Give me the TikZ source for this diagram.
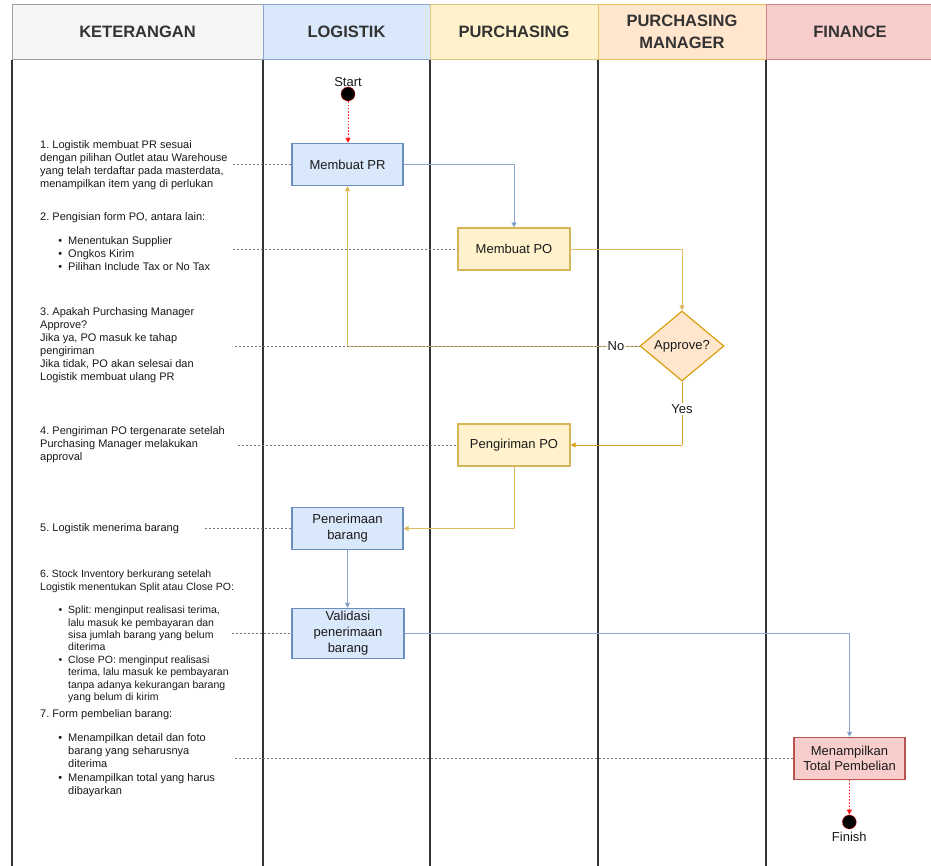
\documentclass[tikz,border=0pt]{standalone}
\usepackage{fontspec}
\setmainfont{Liberation Sans}
\usetikzlibrary{arrows.meta,shapes.geometric}
\frenchspacing
\definecolor{bfill}{HTML}{DAE8FC}\definecolor{bdraw}{HTML}{6C8EBF}
\definecolor{yfill}{HTML}{FFF2CC}\definecolor{ydraw}{HTML}{D6B656}
\definecolor{ofill}{HTML}{FFE6CC}\definecolor{odraw}{HTML}{D79B00}
\definecolor{rfill}{HTML}{F8CECC}\definecolor{rdraw}{HTML}{B85450}
\definecolor{gfill}{HTML}{F5F5F5}\definecolor{gdraw}{HTML}{A0A0A0}
\definecolor{laneline}{HTML}{333333}
\definecolor{guidecol}{HTML}{7A7A7A}
\definecolor{bline}{HTML}{8DA7D3}
\definecolor{yline}{HTML}{DDBC62}
\definecolor{yesline}{HTML}{D9A21E}
\definecolor{txt}{HTML}{1A1A1A}
\newcommand\bitem{\makebox[28pt][r]{\textbullet\hspace{6pt}}}
\newcommand\bcont{\hspace*{28pt}}
\tikzset{
  hdr/.style={rectangle, minimum height=55.5pt, inner sep=0pt, line width=1pt, align=center,
    font=\fontsize{16.5}{21.5}\selectfont\bfseries, text=laneline},
  box/.style={rectangle, minimum width=111pt, minimum height=42pt, line width=1.1pt, align=center,
    inner sep=1pt, font=\fontsize{13}{15.8}\selectfont, text=txt},
  bluebox/.style={box, fill=bfill, draw=bdraw},
  yelbox/.style={box, fill=yfill, draw=ydraw},
  redbox/.style={box, fill=rfill, draw=rdraw},
  note/.style={anchor=north west, align=left, inner sep=0pt, font=\fontsize{11}{13}\selectfont, text=txt},
  guide/.style={draw=guidecol, line width=0.8pt, dash pattern=on 2pt off 2pt},
  flow/.style={line width=0.9pt, -{Triangle[width=5pt,length=5pt]}},
  blueflow/.style={flow, draw=bline, -{Triangle[width=5pt,length=5pt,fill=bdraw]}},
  yelflow/.style={flow, draw=yline, -{Triangle[width=5pt,length=5pt,fill=ydraw]}},
  yesflow/.style={flow, draw=yesline},
  redflow/.style={flow, draw=red!85, dash pattern=on 1.6pt off 1.6pt, -{Triangle[width=5pt,length=5pt,fill=red]}},
  endpt/.style={circle, minimum size=14pt, inner sep=0pt, fill=black, draw=red, dash pattern=on 1pt off 1pt, line width=0.6pt},
  lbl/.style={fill=white, inner sep=1pt, font=\fontsize{13}{15.8}\selectfont, text=txt},
}
\begin{document}
\begin{tikzpicture}[x=1pt,y=-1pt]
\useasboundingbox (0,0) rectangle (931,865);
\fill[white] (0,0) rectangle (931,865);
\clip (0,0) rectangle (931,865);
% headers
\node[hdr, minimum width=251pt, fill=gfill, draw=gdraw] (hket) at (137.5,31.75) {KETERANGAN};
\node[hdr, minimum width=167pt, fill=bfill, draw=bdraw!80] (hlog) at (346.5,31.75) {LOGISTIK};
\node[hdr, minimum width=168pt, fill=yfill, draw=ydraw!80] (hpur) at (514,31.75) {PURCHASING};
\node[hdr, minimum width=168pt, fill=ofill, draw=odraw!60] (hman) at (682,31.75) {PURCHASING\\MANAGER};
\node[hdr, minimum width=168pt, fill=rfill, draw=rdraw!70] (hfin) at (850,31.75) {FINANCE};
% lane lines
\foreach \xx in {12,263,430,598,766}
  \draw[laneline, line width=1.2pt] (\xx,59.5) -- (\xx,866);
% notes
\node[note] (t1) at (40,140.7) {1. Logistik membuat PR sesuai\\dengan pilihan Outlet atau Warehouse\\yang telah terdaftar pada masterdata,\\menampilkan item yang di perlukan};
\node[note] (t2) at (40,212.7) {2. Pengisian form PO, antara lain:\\[11pt]\bitem Menentukan Supplier\\\bitem Ongkos Kirim\\\bitem Pilihan Include Tax or No Tax};
\node[note] (t3) at (40,307.7) {3. Apakah Purchasing Manager\\Approve?\\Jika ya, PO masuk ke tahap\\pengiriman\\Jika tidak, PO akan selesai dan\\Logistik membuat ulang PR};
\node[note] (t4) at (40,426.7) {4. Pengiriman PO tergenarate setelah\\Purchasing Manager melakukan\\approval};
\node[note] (t5) at (40,523.7) {5. Logistik menerima barang};
\node[note, font=\fontsize{10.5}{12.4}\selectfont] (t6) at (40,569.9) {6. Stock Inventory berkurang setelah\\Logistik menentukan Split atau Close PO:\\[11.2pt]\bitem Split: menginput realisasi terima,\\\bcont lalu masuk ke pembayaran dan\\\bcont sisa jumlah barang yang belum\\\bcont diterima\\\bitem Close PO: menginput realisasi\\\bcont terima, lalu masuk ke pembayaran\\\bcont tanpa adanya kekurangan barang\\\bcont yang belum di kirim};
\node[note, font=\fontsize{11}{13.2}\selectfont] (t7) at (40,709.7) {7. Form pembelian barang:\\[10.5pt]\bitem Menampilkan detail dan foto\\\bcont barang yang seharusnya\\\bcont diterima\\\bitem Menampilkan total yang harus\\\bcont dibayarkan};
% guide anchors
\coordinate (g1) at (233,164.5);
\coordinate (g2) at (233,249);
\coordinate (g3) at (235,346);
\coordinate (g4) at (238,445);
\coordinate (g5) at (205,528.5);
\coordinate (g6) at (232,633.3);
\coordinate (g7) at (235,758.3);
% flow nodes
\node[endpt, label={[inner sep=0pt, font=\fontsize{13}{15.8}\selectfont, text=txt]above:Start}] (start) at (348,94) {};
\node[bluebox] (prb) at (347.5,164.5) {Membuat PR};
\node[yelbox, minimum width=112pt] (pob) at (514,249) {Membuat PO};
\node[diamond, minimum width=84pt, minimum height=70pt, inner sep=0pt, fill=ofill, draw=odraw, line width=1.1pt,
  font=\fontsize{13}{15.8}\selectfont, text=txt] (appr) at (682,346) {Approve?};
\node[yelbox, minimum width=112pt] (kirim) at (514,445) {Pengiriman PO};
\node[bluebox] (terima) at (347.5,528.5) {Penerimaan\\barang};
\node[bluebox, minimum width=112pt, minimum height=50pt] (valid) at (348,633.3) {Validasi\\penerimaan\\barang};
\node[redbox] (total) at (849.5,758.3) {Menampilkan\\Total Pembelian};
\node[endpt, label={[inner sep=0pt, label distance=3pt, font=\fontsize{13}{15.8}\selectfont, text=txt]below:Finish}] (finish) at (849.3,822) {};
% flows
\draw[redflow] (start.south) -- (start.south |- prb.north);
\draw[blueflow] (prb.east) -| (pob.north);
\draw[yelflow] (pob.east) -| (appr.north);
\draw[yelflow] (appr.west) -- (appr.west -| prb.south) -- (prb.south);
\draw[yesflow, -] (appr.south) -- (appr.south |- kirim.east);
\draw[yesflow] (appr.south |- kirim.east) -- (kirim.east);
\draw[yelflow] (kirim.south) |- (terima.east);
\draw[blueflow] (terima.south) -- (terima.south |- valid.north);
\draw[blueflow] (valid.east) -| (total.north);
\draw[redflow] (total.south) -- (finish.north);
% guides
\draw[guide] (g1) -- (prb.west);
\draw[guide] (g2) -- (pob.west);
\draw[guide] (g3) -- (appr.west);
\draw[guide] (g4) -- (kirim.west);
\draw[guide] (g5) -- (terima.west);
\draw[guide] (g6) -- (valid.west);
\draw[guide] (g7) -- (total.west);
% edge labels
\node[lbl] (no) at (616,346) {No};
\node[lbl] (yes) at (682,409) {Yes};
\end{tikzpicture}
\end{document}
